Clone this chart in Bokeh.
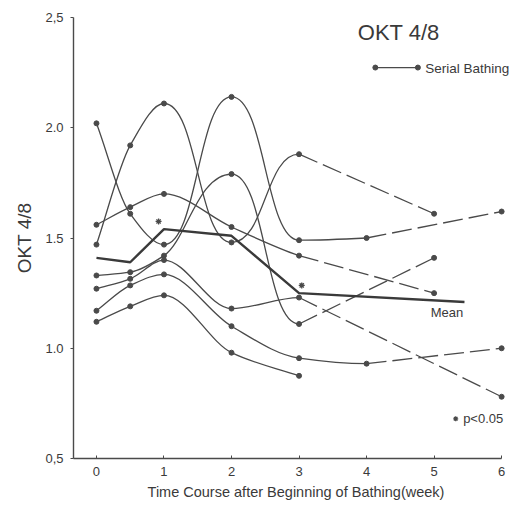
from bokeh.plotting import figure
from bokeh.models import Range1d, Label, FixedTicker, ColumnDataSource
from bokeh.embed import file_html
from bokeh.resources import INLINE

# ---- data ----
weeks_s1 = [0, 0.5, 1, 2, 3, 4, 6]
vals_s1 = [2.02, 1.61, 1.47, 2.14, 1.49, 1.50, 1.62]
weeks_s2 = [0, 0.5, 1, 2, 3, 5]
vals_s2 = [1.47, 1.92, 2.11, 1.48, 1.88, 1.61]
weeks_s3 = [0, 0.5, 1, 2, 3, 5]
vals_s3 = [1.56, 1.64, 1.70, 1.55, 1.42, 1.25]
weeks_s4 = [0, 0.5, 1, 2, 3, 5]
vals_s4 = [1.33, 1.345, 1.42, 1.79, 1.11, 1.41]
weeks_s5 = [0, 0.5, 1, 2, 3, 6]
vals_s5 = [1.27, 1.315, 1.40, 1.18, 1.23, 0.78]
weeks_s6 = [0, 0.5, 1, 2, 3, 4, 6]
vals_s6 = [1.17, 1.285, 1.335, 1.10, 0.955, 0.93, 1.00]
weeks_s7 = [0, 0.5, 1, 2, 3]
vals_s7 = [1.12, 1.19, 1.24, 0.98, 0.875]
# index of first segment drawn dashed (None = all solid)
dash_from = [5, 4, 4, 4, 4, 5, None]

mean_weeks = [0, 0.5, 1, 2, 3, 5.45]
mean_vals = [1.41, 1.39, 1.54, 1.51, 1.25, 1.21]

star_weeks = [0.92, 3.04]
star_vals = [1.575, 1.285]

x_ticks = [0, 1, 2, 3, 4, 5, 6]
y_ticks = [0.5, 1.0, 1.5, 2.0, 2.5]
y_tick_labels = {0.5: "0,5", 1.0: "1.0", 1.5: "1.5", 2.0: "2.0", 2.5: "2,5"}

series = [(weeks_s1, vals_s1), (weeks_s2, vals_s2), (weeks_s3, vals_s3),
          (weeks_s4, vals_s4), (weeks_s5, vals_s5), (weeks_s6, vals_s6),
          (weeks_s7, vals_s7)]

INK = "#4a4a4a"
TXT = "#3a3a3a"
FONT = "Liberation Sans"


def pchip_slopes(xs, ys):
    n = len(xs)
    h = [xs[i + 1] - xs[i] for i in range(n - 1)]
    d = [(ys[i + 1] - ys[i]) / h[i] for i in range(n - 1)]
    m = [0.0] * n
    m[0] = d[0]
    m[-1] = d[-1]
    for k in range(1, n - 1):
        if d[k - 1] * d[k] <= 0:
            m[k] = 0.0
        else:
            w1 = 2 * h[k] + h[k - 1]
            w2 = h[k] + 2 * h[k - 1]
            m[k] = (w1 + w2) / (w1 / d[k - 1] + w2 / d[k])
    return m


p = figure(width=520, height=508, output_backend="svg", toolbar_location=None,
           x_range=Range1d(-0.34, 6.25), y_range=Range1d(0.5, 2.5),
           min_border_left=73, min_border_right=2, min_border_top=17,
           min_border_bottom=50)
p.outline_line_color = None
p.xgrid.visible = False
p.ygrid.visible = False
p.background_fill_color = "white"
p.border_fill_color = "white"

keys = ["x0", "y0", "x1", "y1", "cx0", "cy0", "cx1", "cy1"]
solid = {k: [] for k in keys}
dashed = {k: [] for k in ["x0", "y0", "x1", "y1"]}

for (xs, ys), dfrom in zip(series, dash_from):
    m = pchip_slopes(xs, ys)
    for i in range(len(xs) - 1):
        if dfrom is not None and i >= dfrom:
            dashed["x0"].append(xs[i]); dashed["y0"].append(ys[i])
            dashed["x1"].append(xs[i + 1]); dashed["y1"].append(ys[i + 1])
            continue
        h = xs[i + 1] - xs[i]
        big = abs(ys[i + 1] - ys[i]) > 0.3
        a0 = 0.5 if (big and m[i] == 0) else 1 / 3
        a1 = 0.5 if (big and m[i + 1] == 0) else 1 / 3
        solid["x0"].append(xs[i]); solid["y0"].append(ys[i])
        solid["x1"].append(xs[i + 1]); solid["y1"].append(ys[i + 1])
        solid["cx0"].append(xs[i] + a0 * h)
        solid["cy0"].append(ys[i] + m[i] * a0 * h)
        solid["cx1"].append(xs[i + 1] - a1 * h)
        solid["cy1"].append(ys[i + 1] - m[i + 1] * a1 * h)

p.bezier(source=ColumnDataSource(solid), x0="x0", y0="y0", x1="x1", y1="y1",
         cx0="cx0", cy0="cy0", cx1="cx1", cy1="cy1",
         line_color=INK, line_width=1.3)
p.segment(source=ColumnDataSource(dashed), x0="x0", y0="y0", x1="x1", y1="y1",
          line_color=INK, line_width=1.3, line_dash="20 6")

all_x = [x for xs, _ in series for x in xs]
all_y = [y for _, ys in series for y in ys]
p.scatter(all_x, all_y, size=5, color=INK)

p.line(mean_weeks, mean_vals, line_color=TXT, line_width=2.4)

p.scatter(star_weeks, star_vals, marker="asterisk", size=6, line_color=INK,
          line_width=1.3)

# legend sample
p.line([4.13, 4.76], [2.273, 2.273], line_color=INK, line_width=1.3)
p.scatter([4.13, 4.76], [2.273, 2.273], size=5, color=INK)
p.add_layout(Label(x=4.87, y=2.27, text="Serial Bathing", text_font=FONT,
                   text_font_size="13.5px", text_color=TXT,
                   text_baseline="middle"))

p.add_layout(Label(x=3.87, y=2.43, text="OKT 4/8", text_font=FONT,
                   text_font_size="22px", text_color=TXT,
                   text_baseline="middle"))

p.add_layout(Label(x=4.95, y=1.16, text="Mean", text_font=FONT,
                   text_font_size="13px", text_color=TXT,
                   text_baseline="middle"))

p.scatter([5.32], [0.68], marker="asterisk", size=5, line_color=INK, line_width=1.2)
p.add_layout(Label(x=5.43, y=0.68, text="p<0.05", text_font=FONT,
                   text_font_size="13px", text_color=TXT,
                   text_baseline="middle"))

# axes
p.xaxis.ticker = FixedTicker(ticks=x_ticks)
p.yaxis.ticker = FixedTicker(ticks=y_ticks)
p.yaxis.major_label_overrides = y_tick_labels
p.xaxis.bounds = (-0.34, 6.0)
for ax in (p.xaxis[0], p.yaxis[0]):
    ax.axis_line_color = INK
    ax.axis_line_width = 1.4
    ax.major_tick_line_color = INK
    ax.minor_tick_line_color = None
    ax.major_label_text_font = FONT
    ax.major_label_text_color = TXT
    ax.axis_label_text_font = FONT
    ax.axis_label_text_color = TXT
    ax.axis_label_text_font_style = "normal"

p.xaxis.major_tick_in = 3
p.xaxis.major_tick_out = 0
p.yaxis.major_tick_in = 0
p.yaxis.major_tick_out = 3
p.xaxis.major_label_text_font_size = "13px"
p.yaxis.major_label_text_font_size = "13px"
p.xaxis.major_label_standoff = 8
p.yaxis.major_label_standoff = 7
p.xaxis.axis_label = "Time Course after Beginning of Bathing(week)"
p.xaxis.axis_label_text_font_size = "14.5px"
p.xaxis.axis_label_standoff = 5
p.yaxis.axis_label = "OKT 4/8"
p.yaxis.axis_label_text_font_size = "19px"
p.yaxis.axis_label_standoff = 7

open("out.html", "w").write(file_html(p, INLINE))
